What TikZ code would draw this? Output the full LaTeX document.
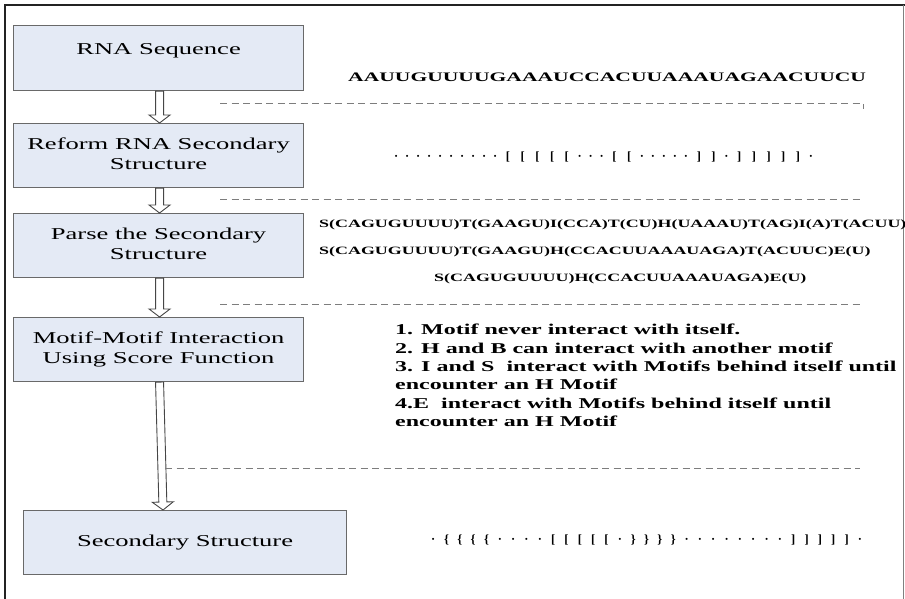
\documentclass[tikz,border=0pt]{standalone}
\usepackage{fontspec}
\setmainfont{Liberation Serif}
\usetikzlibrary{calc}

\definecolor{boxfill}{RGB}{228,234,245}
\definecolor{boxline}{RGB}{105,105,105}
\definecolor{dashgray}{RGB}{125,125,125}
\definecolor{framec}{RGB}{35,35,35}
\definecolor{arrowline}{RGB}{70,70,70}

% horizontally widened lettering
\newcommand\wide[1]{\scalebox{1.6}[1]{#1}}
\newcommand\boxtext[1]{\wide{\fontsize{16.6}{19.5}\selectfont\begin{tabular}{@{}c@{}}#1\end{tabular}}}
\newcommand\ruletext[1]{\wide{\fontsize{15}{18.4}\selectfont\bfseries\begin{tabular}[t]{@{}l@{}}#1\end{tabular}}}
\newcommand\motiftext[1]{\wide{\fontsize{11.2}{13}\selectfont\bfseries #1}}

% dot-bracket strings: every character in a cell of fixed width
\newlength\chw
\newlength\dotw
\newcommand\spreadrow[3]{\setlength\dotw{#1}\setlength\chw{#2}\spreadloop#3\relax}
\def\spreadloop#1{\ifx#1\relax\else\ifx#1·\makebox[\dotw][c]{#1}\else\makebox[\chw][c]{#1}\fi\expandafter\spreadloop\fi}

% hollow block arrow from #1 to #2
\newcommand\hollowarrow[2]{%
  \coordinate (hb) at ($(#2)!8pt!(#1)$);
  \draw[blockarrow] ($(#1)!4pt!90:(#2)$) -- ($(hb)!4pt!-90:(#1)$) -- ($(hb)!10.5pt!-90:(#1)$)
    -- (#2) -- ($(hb)!10.5pt!90:(#1)$) -- ($(hb)!4pt!90:(#1)$) -- ($(#1)!4pt!-90:(#2)$) -- cycle;}

\tikzset{
  stepbox/.style={draw=boxline, fill=boxfill, line width=1.1pt, anchor=north west,
    minimum height=64pt, inner sep=0pt},
  lbl/.style={inner sep=0pt},
  plain/.style={inner sep=0pt, anchor=base west},
  sep/.style={draw=dashgray, line width=0.9pt, dash pattern=on 7pt off 4.5pt},
  blockarrow/.style={draw=arrowline, fill=white, line width=0.9pt, line join=miter},
}

\begin{document}
\begin{tikzpicture}[x=1pt, y=-1pt]
\useasboundingbox (0,0) rectangle (905,599);

% outer frame
\draw[framec, line width=2.4pt] (5,599) -- (5,5);
\draw[framec, line width=1.8pt] (4,5) -- (905,5);
\draw[gray, line width=0.9pt] (903.5,5) -- (903.5,599);

% process steps
\node[stepbox, minimum width=290pt, minimum height=65pt] (b1) at (13,25) {};
\node[stepbox, minimum width=290pt] (b2) at (13,123) {\boxtext{Reform RNA Secondary\\Structure}};
\node[stepbox, minimum width=290pt] (b3) at (13,213) {\boxtext{Parse the Secondary\\Structure}};
\node[stepbox, minimum width=290pt] (b4) at (13,317) {\boxtext{Motif-Motif Interaction\\Using Score Function}};
\node[stepbox, minimum width=323pt] (b5) at (23,510) {\boxtext{Secondary Structure}};
\node[lbl] (t1) at ([yshift=7.8pt]b1.center) {\boxtext{RNA Sequence}};

% arrows between the steps
\coordinate (a1s) at ([xshift=1pt]b1.south);
\coordinate (a1t) at (a1s |- b2.north);
\coordinate (a2s) at ([xshift=1pt]b2.south);
\coordinate (a2t) at (a2s |- b3.north);
\coordinate (a3s) at ([xshift=1pt]b3.south);
\coordinate (a3t) at (a3s |- b4.north);
\coordinate (a4s) at ([xshift=1pt]b4.south);
\coordinate (a4t) at ([xshift=-22pt]b5.north);
\hollowarrow{a1s}{a1t}
\hollowarrow{a2s}{a2t}
\hollowarrow{a3s}{a3t}
\hollowarrow{a4s}{a4t}

% separators
\draw[sep] (220,103) -- (863,103) -- (863,109);
\draw[sep] (220,199) -- (862,199);
\draw[sep] (220,304) -- (862,304);
\draw[sep] (165,468) -- (860,468);

% results of each step
\node[plain] (seq) at (348,81.3) {\scalebox{1.66}[1]{\fontsize{13}{15}\selectfont\bfseries AAUUGUUUUGAAAUCCACUUAAAUAGAACUUCU}};
\node[plain] (db) at (390.5,160.6) {\fontsize{12.5}{14}\selectfont\bfseries\spreadrow{11pt}{14.7pt}{··········[[[[[···[[·····]]·]]]]]·}};
\node[plain] (m1) at (319,227.8) {\motiftext{S(CAGUGUUUU)T(GAAGU)I(CCA)T(CU)H(UAAAU)T(AG)I(A)T(ACUU)}};
\node[plain] (m2) at (319,254.8) {\motiftext{S(CAGUGUUUU)T(GAAGU)H(CCACUUAAAUAGA)T(ACUUC)E(U)}};
\node[plain] (m3) at (434,281.8) {\motiftext{S(CAGUGUUUU)H(CCACUUAAAUAGA)E(U)}};
\node[plain] (rules) at (395,334.6) {\ruletext{1. Motif never interact with itself.\\
2. H and B can interact with another motif\\
3. I and S\ \ interact with Motifs behind itself until\\
encounter an H Motif\\
4.E\ \ interact with Motifs behind itself until\\
encounter an H Motif}};
\node[plain] (ss) at (426.3,543.2) {\fontsize{12.5}{14}\selectfont\bfseries\spreadrow{13.34pt}{13.34pt}{·\{\{\{\{····[[[[[·\}\}\}\}········]]]]]·}};
\end{tikzpicture}
\end{document}
